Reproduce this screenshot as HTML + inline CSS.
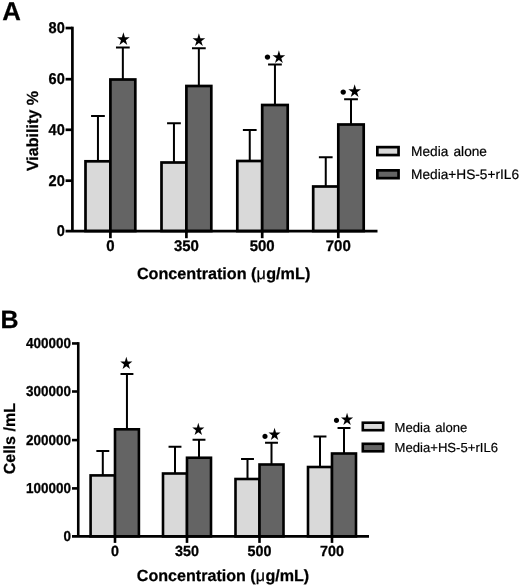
<!DOCTYPE html>
<html lang="en"><head><meta charset="utf-8"><title>Figure</title>
<style>
html,body{margin:0;padding:0;background:#fff;}
svg{display:block;}
text{font-family:"Liberation Sans",sans-serif;fill:#000;text-rendering:geometricPrecision;}
.b{font-weight:bold;stroke:#000;stroke-width:0.25px;}
.r{font-weight:normal;stroke:#000;stroke-width:0.2px;word-spacing:1.4px;}
.mu{font-weight:normal;}
.t{stroke-width:0.3px;}
.sym{font-family:"DejaVu Sans",sans-serif;}
</style></head><body>
<svg width="520" height="587" viewBox="0 0 520 587">
<defs><filter id="soft" x="0" y="0" width="520" height="587" filterUnits="userSpaceOnUse"><feGaussianBlur stdDeviation="0.35"/></filter></defs>
<rect width="520" height="587" fill="#fff"/>
<g>
<path d="M97.95 161.30V116.10M91.08 116.10H104.83" stroke="#000" stroke-width="2.0" fill="none"/>
<rect x="85.50" y="161.30" width="24.90" height="69.75" fill="#d9d9d9" stroke="#000" stroke-width="2.7"/>
<path d="M122.85 79.50V47.40M115.98 47.40H129.73" stroke="#000" stroke-width="2.0" fill="none"/>
<rect x="110.40" y="79.50" width="24.90" height="151.55" fill="#646464" stroke="#000" stroke-width="2.7"/>
<path d="M173.95 162.50V123.30M167.07 123.30H180.82" stroke="#000" stroke-width="2.0" fill="none"/>
<rect x="161.50" y="162.50" width="24.90" height="68.55" fill="#d9d9d9" stroke="#000" stroke-width="2.7"/>
<path d="M198.85 86.00V48.30M191.98 48.30H205.73" stroke="#000" stroke-width="2.0" fill="none"/>
<rect x="186.40" y="86.00" width="24.90" height="145.05" fill="#646464" stroke="#000" stroke-width="2.7"/>
<path d="M249.75 161.00V130.00M242.88 130.00H256.62" stroke="#000" stroke-width="2.0" fill="none"/>
<rect x="237.30" y="161.00" width="24.90" height="70.05" fill="#d9d9d9" stroke="#000" stroke-width="2.7"/>
<path d="M274.95 105.00V64.60M268.07 64.60H281.82" stroke="#000" stroke-width="2.0" fill="none"/>
<rect x="262.20" y="105.00" width="25.50" height="126.05" fill="#646464" stroke="#000" stroke-width="2.7"/>
<path d="M325.75 186.50V157.25M318.88 157.25H332.62" stroke="#000" stroke-width="2.0" fill="none"/>
<rect x="313.20" y="186.50" width="25.10" height="44.55" fill="#d9d9d9" stroke="#000" stroke-width="2.7"/>
<path d="M351.00 124.50V99.30M344.12 99.30H357.88" stroke="#000" stroke-width="2.0" fill="none"/>
<rect x="338.30" y="124.50" width="25.40" height="106.55" fill="#646464" stroke="#000" stroke-width="2.7"/>
<path d="M72.40 26.70V231.05" stroke="#000" stroke-width="2.7" fill="none"/>
<path d="M65.60 231.05H377.50" stroke="#000" stroke-width="2.7" fill="none"/>
<path d="M65.60 180.70H72.40" stroke="#000" stroke-width="2.7" fill="none"/>
<path d="M65.60 129.80H72.40" stroke="#000" stroke-width="2.7" fill="none"/>
<path d="M65.60 79.20H72.40" stroke="#000" stroke-width="2.7" fill="none"/>
<path d="M65.60 28.05H72.40" stroke="#000" stroke-width="2.7" fill="none"/>
<path d="M110.40 231.05V238.20" stroke="#000" stroke-width="2.7" fill="none"/>
<path d="M186.40 231.05V238.20" stroke="#000" stroke-width="2.7" fill="none"/>
<path d="M262.20 231.05V238.20" stroke="#000" stroke-width="2.7" fill="none"/>
<path d="M338.30 231.05V238.20" stroke="#000" stroke-width="2.7" fill="none"/>
<rect x="377.35" y="147.15" width="21.20" height="7.90" fill="#d9d9d9" stroke="#000" stroke-width="2.7"/>
<rect x="377.35" y="170.35" width="21.20" height="7.80" fill="#646464" stroke="#000" stroke-width="2.7"/>
<path d="M102.80 475.40V451.00M96.35 451.00H109.25" stroke="#000" stroke-width="2.0" fill="none"/>
<rect x="90.60" y="475.40" width="24.40" height="61.00" fill="#d9d9d9" stroke="#000" stroke-width="2.6"/>
<path d="M126.95 429.30V374.00M120.50 374.00H133.40" stroke="#000" stroke-width="2.0" fill="none"/>
<rect x="115.00" y="429.30" width="23.90" height="107.10" fill="#646464" stroke="#000" stroke-width="2.6"/>
<path d="M175.00 473.50V446.75M168.55 446.75H181.45" stroke="#000" stroke-width="2.0" fill="none"/>
<rect x="163.00" y="473.50" width="24.00" height="62.90" fill="#d9d9d9" stroke="#000" stroke-width="2.6"/>
<path d="M199.00 457.75V439.75M192.55 439.75H205.45" stroke="#000" stroke-width="2.0" fill="none"/>
<rect x="187.00" y="457.75" width="24.00" height="78.65" fill="#646464" stroke="#000" stroke-width="2.6"/>
<path d="M247.50 479.00V459.00M241.05 459.00H253.95" stroke="#000" stroke-width="2.0" fill="none"/>
<rect x="235.50" y="479.00" width="24.00" height="57.40" fill="#d9d9d9" stroke="#000" stroke-width="2.6"/>
<path d="M271.50 464.50V442.80M265.05 442.80H277.95" stroke="#000" stroke-width="2.0" fill="none"/>
<rect x="259.50" y="464.50" width="24.00" height="71.90" fill="#646464" stroke="#000" stroke-width="2.6"/>
<path d="M320.00 467.00V436.50M313.55 436.50H326.45" stroke="#000" stroke-width="2.0" fill="none"/>
<rect x="308.00" y="467.00" width="24.00" height="69.40" fill="#d9d9d9" stroke="#000" stroke-width="2.6"/>
<path d="M344.00 453.50V428.00M337.55 428.00H350.45" stroke="#000" stroke-width="2.0" fill="none"/>
<rect x="332.00" y="453.50" width="24.00" height="82.90" fill="#646464" stroke="#000" stroke-width="2.6"/>
<path d="M78.25 342.15V536.40" stroke="#000" stroke-width="2.6" fill="none"/>
<path d="M72.00 536.40H369.00" stroke="#000" stroke-width="2.6" fill="none"/>
<path d="M72.00 488.40H78.25" stroke="#000" stroke-width="2.6" fill="none"/>
<path d="M72.00 440.10H78.25" stroke="#000" stroke-width="2.6" fill="none"/>
<path d="M72.00 391.50H78.25" stroke="#000" stroke-width="2.6" fill="none"/>
<path d="M72.00 343.45H78.25" stroke="#000" stroke-width="2.6" fill="none"/>
<path d="M115.00 536.40V542.90" stroke="#000" stroke-width="2.6" fill="none"/>
<path d="M187.00 536.40V542.90" stroke="#000" stroke-width="2.6" fill="none"/>
<path d="M259.50 536.40V542.90" stroke="#000" stroke-width="2.6" fill="none"/>
<path d="M332.00 536.40V542.90" stroke="#000" stroke-width="2.6" fill="none"/>
<rect x="362.80" y="422.70" width="20.40" height="7.50" fill="#d9d9d9" stroke="#000" stroke-width="2.6"/>
<rect x="362.80" y="443.80" width="20.40" height="7.50" fill="#646464" stroke="#000" stroke-width="2.6"/>
</g>
<g filter="url(#soft)">
<text class="b t" transform="translate(64.80 235.90) scale(0.93 1)" font-size="15.65" text-anchor="end">0</text>
<text class="b t" transform="translate(64.80 185.55) scale(0.93 1)" font-size="15.65" text-anchor="end">20</text>
<text class="b t" transform="translate(64.80 134.65) scale(0.93 1)" font-size="15.65" text-anchor="end">40</text>
<text class="b t" transform="translate(64.80 84.05) scale(0.93 1)" font-size="15.65" text-anchor="end">60</text>
<text class="b t" transform="translate(64.80 32.90) scale(0.93 1)" font-size="15.65" text-anchor="end">80</text>
<text class="b t" transform="translate(110.40 251.10) scale(0.975 1)" font-size="15.4" text-anchor="middle">0</text>
<text class="b t" transform="translate(186.40 251.10) scale(0.975 1)" font-size="15.4" text-anchor="middle">350</text>
<text class="b t" transform="translate(262.20 251.10) scale(0.975 1)" font-size="15.4" text-anchor="middle">500</text>
<text class="b t" transform="translate(338.30 251.10) scale(0.975 1)" font-size="15.4" text-anchor="middle">700</text>
<text class="b" x="136.90" y="279.00" font-size="16.2">Concentration (<tspan class="mu">μ</tspan><tspan dx="0.4">g/mL)</tspan></text>
<text class="b" transform="translate(38.10 131.00) rotate(-90)" font-size="16.1" text-anchor="middle">Viability %</text>
<text class="r" x="411.00" y="156.00" font-size="13.7">Media alone</text>
<text class="r" x="411.00" y="179.00" font-size="13.7">Media+HS-5+rIL6</text>
<text class="sym" transform="translate(116.10 45.33) scale(1 1.07)" font-size="16.50">★</text>
<text class="sym" transform="translate(191.50 46.13) scale(1 1.07)" font-size="16.50">★</text>
<text class="sym" transform="translate(271.60 62.83) scale(1 1.07)" font-size="16.50">★</text>
<text class="sym" transform="translate(347.35 96.53) scale(1 1.07)" font-size="16.50">★</text>
<text class="sym" x="262.01" y="64.41" font-size="18.60">•</text>
<text class="sym" x="337.76" y="99.41" font-size="18.60">•</text>
<text class="b" x="2.20" y="19.80" font-size="25.8">A</text>
<text class="b t" transform="translate(71.10 540.84) scale(0.93 1)" font-size="14.5" text-anchor="end">0</text>
<text class="b t" transform="translate(71.10 492.84) scale(0.93 1)" font-size="14.5" text-anchor="end">100000</text>
<text class="b t" transform="translate(71.10 444.54) scale(0.93 1)" font-size="14.5" text-anchor="end">200000</text>
<text class="b t" transform="translate(71.10 395.94) scale(0.93 1)" font-size="14.5" text-anchor="end">300000</text>
<text class="b t" transform="translate(71.10 347.89) scale(0.93 1)" font-size="14.5" text-anchor="end">400000</text>
<text class="b t" transform="translate(115.00 555.90) scale(0.975 1)" font-size="14.7" text-anchor="middle">0</text>
<text class="b t" transform="translate(187.00 555.90) scale(0.975 1)" font-size="14.7" text-anchor="middle">350</text>
<text class="b t" transform="translate(259.50 555.90) scale(0.975 1)" font-size="14.7" text-anchor="middle">500</text>
<text class="b t" transform="translate(332.00 555.90) scale(0.975 1)" font-size="14.7" text-anchor="middle">700</text>
<text class="b" x="136.80" y="580.50" font-size="16.1">Concentration (<tspan class="mu">μ</tspan><tspan dx="0.4">g/mL)</tspan></text>
<text class="b" transform="translate(15.30 438.70) rotate(-90)" font-size="16.05" text-anchor="middle">Cells /mL</text>
<text class="r" x="394.60" y="431.60" font-size="13.1">Media alone</text>
<text class="r" x="394.60" y="452.20" font-size="13.1">Media+HS-5+rIL6</text>
<text class="sym" transform="translate(119.14 368.86) scale(1 1.07)" font-size="15.76">★</text>
<text class="sym" transform="translate(191.34 434.66) scale(1 1.07)" font-size="15.76">★</text>
<text class="sym" transform="translate(267.44 440.16) scale(1 1.07)" font-size="15.76">★</text>
<text class="sym" transform="translate(340.04 425.16) scale(1 1.07)" font-size="15.76">★</text>
<text class="sym" x="259.86" y="442.80" font-size="17.76">•</text>
<text class="sym" x="331.36" y="427.00" font-size="17.76">•</text>
<text class="b" x="0.50" y="327.90" font-size="25">B</text>
</g>
</svg>
</body></html>
